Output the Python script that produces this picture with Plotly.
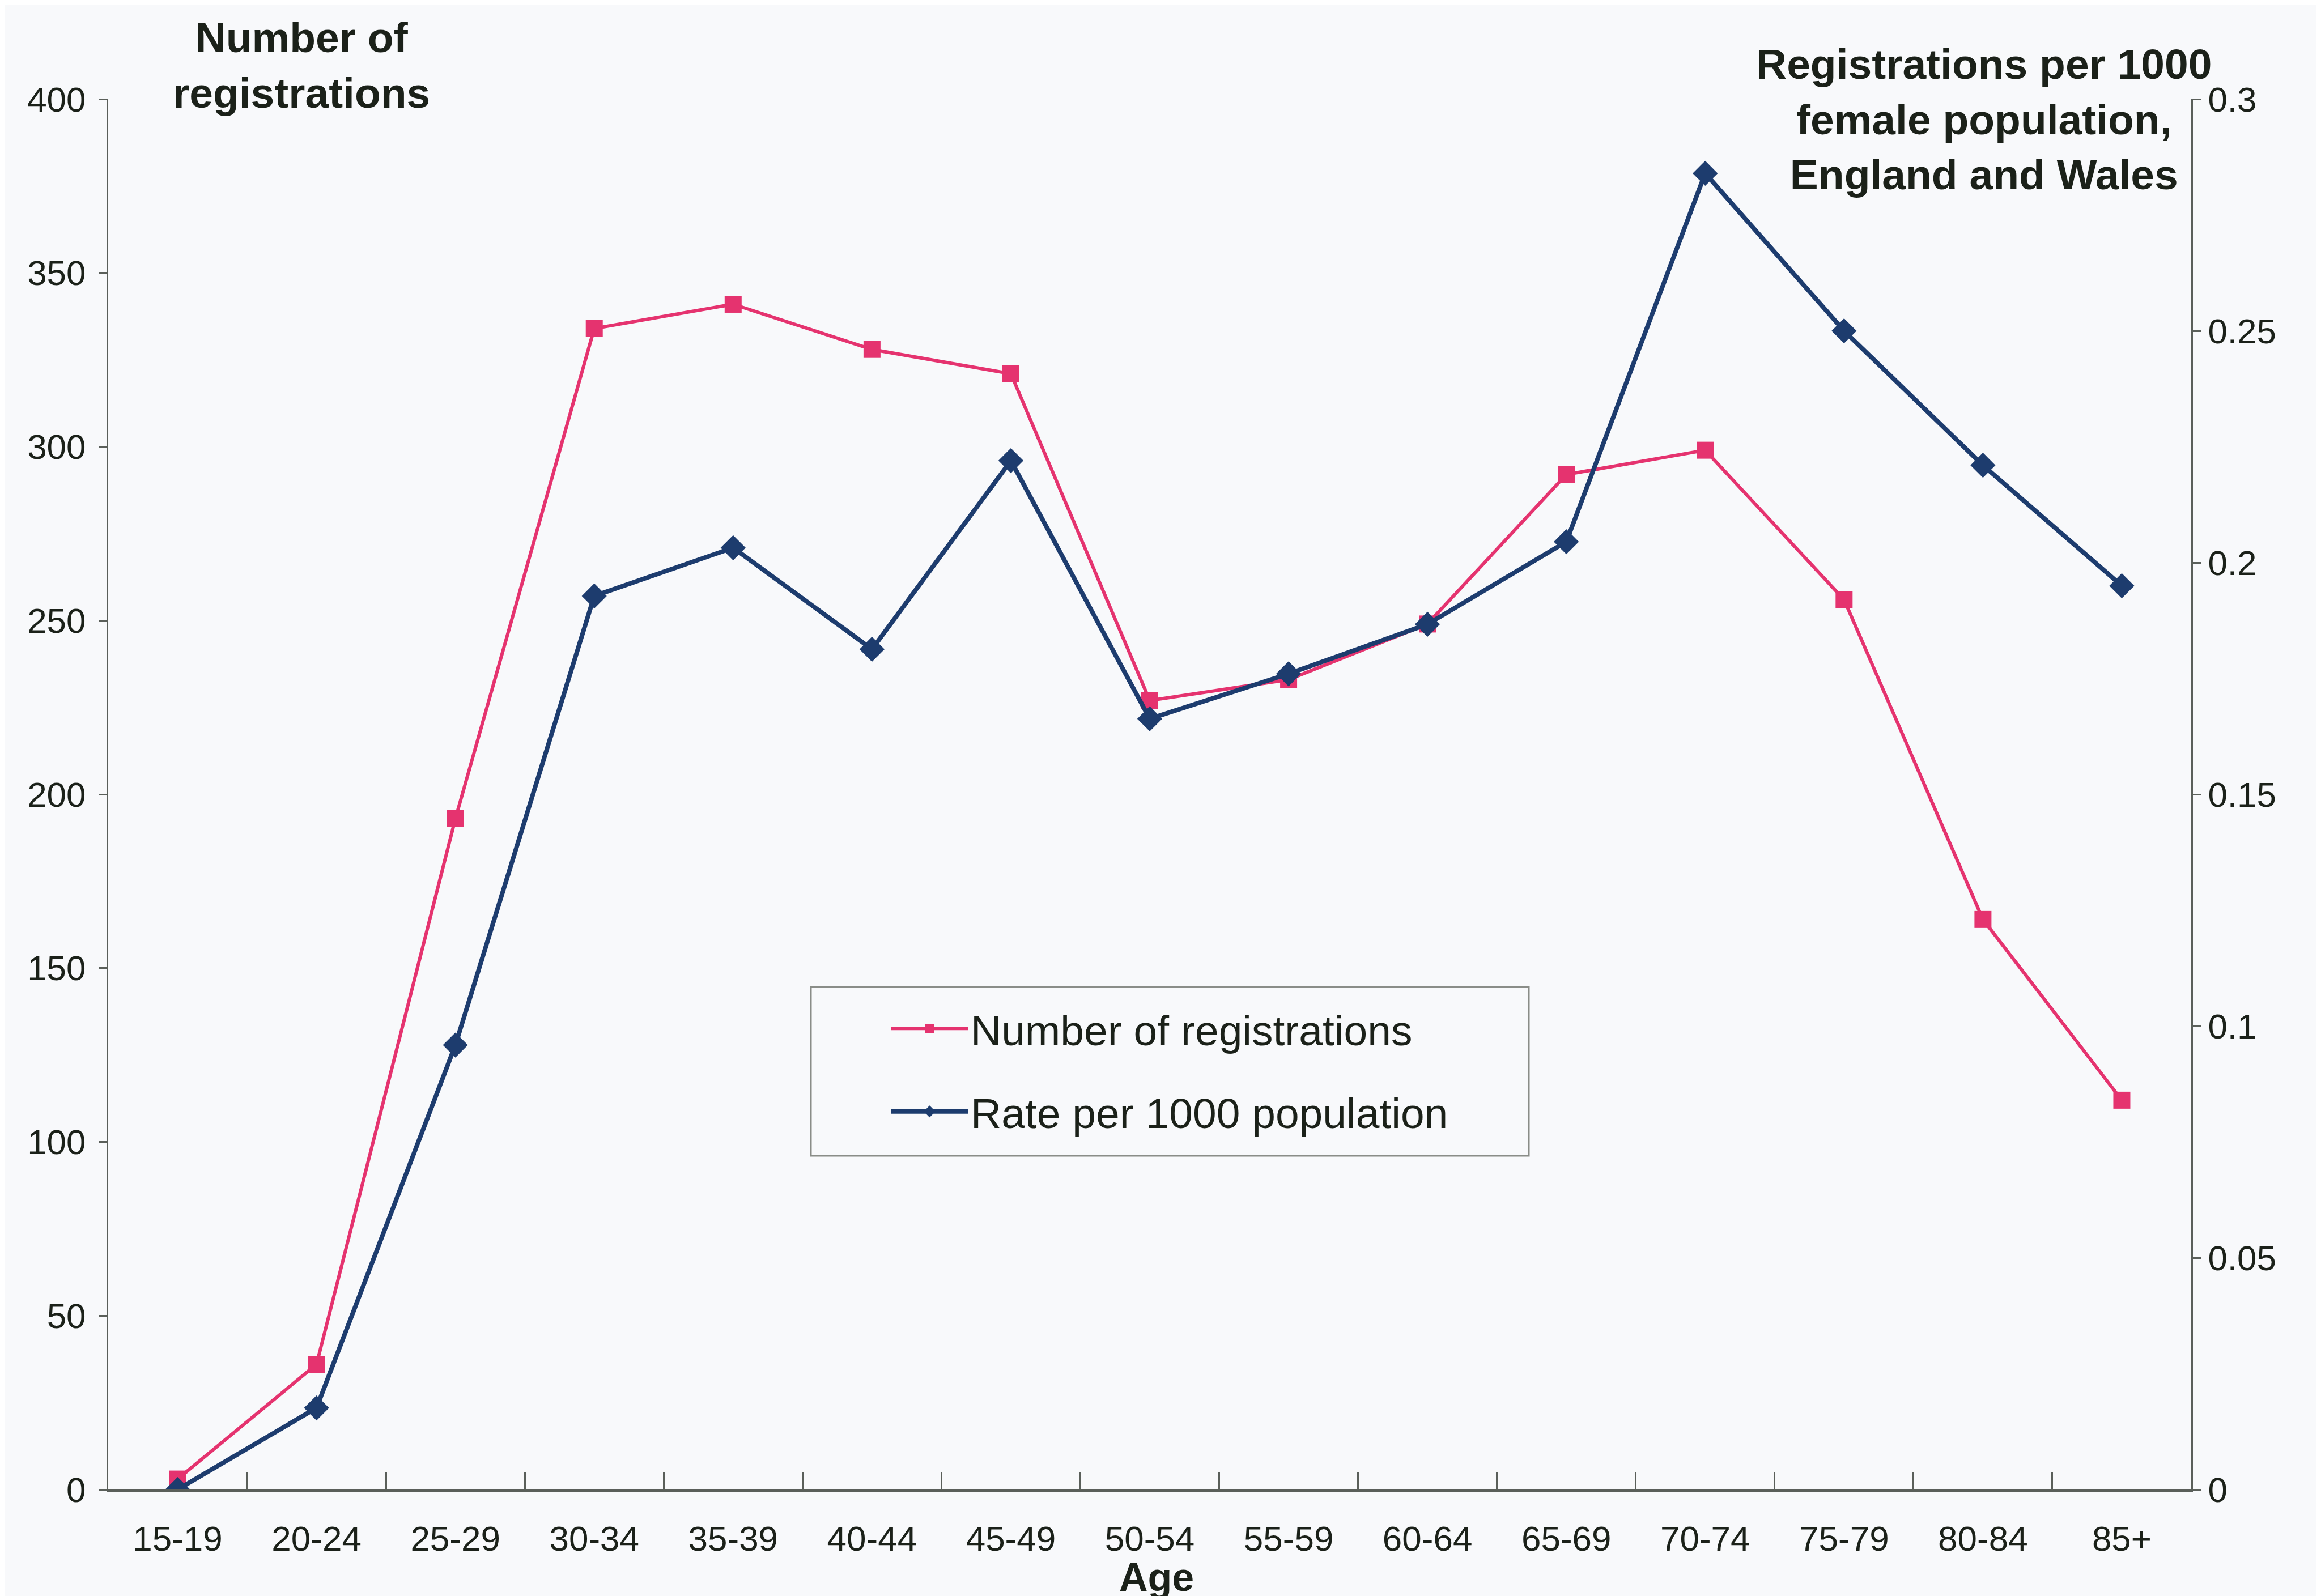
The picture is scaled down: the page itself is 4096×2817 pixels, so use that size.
import plotly.graph_objects as go

ages = ["15-19", "20-24", "25-29", "30-34", "35-39", "40-44", "45-49", "50-54",
        "55-59", "60-64", "65-69", "70-74", "75-79", "80-84", "85+"]
registrations = [3, 36, 193, 334, 341, 328, 321, 227, 233, 249, 292, 299, 256, 164, 112]
rate_per_1000 = [0.0, 0.0176, 0.0959, 0.1928, 0.2032, 0.1813, 0.222, 0.1663,
                 0.176, 0.1867, 0.2045, 0.284, 0.25, 0.221, 0.195]
left_ticks = [0, 50, 100, 150, 200, 250, 300, 350, 400]
right_ticks = [0, 0.05, 0.1, 0.15, 0.2, 0.25, 0.3]
right_ticktext = ["0", "0.05", "0.1", "0.15", "0.2", "0.25", "0.3"]

W, H = 4096, 2817
L, R, T, B = 183, 237, 167, 196
PW, PH = W - L - R, H - T - B

def px(x):
    return (x - L) / PW

def py(y):
    return 1 - (y - T) / PH

FONT = "Liberation Sans, Arial, sans-serif"
TXT = "#1b2119"
PINK = "#e5336f"
BLUE = "#1d3c6e"
AX = "#5a5f5a"

xs = list(range(len(ages)))

fig = go.Figure()
fig.add_trace(go.Scatter(
    x=xs, y=registrations, name="Number of registrations", mode="lines+markers",
    line=dict(color=PINK, width=6), marker=dict(symbol="square", size=30, color=PINK),
    legendgroup="a", yaxis="y"))
fig.add_trace(go.Scatter(
    x=xs, y=rate_per_1000, name="Rate per 1000 population", mode="lines+markers",
    line=dict(color=BLUE, width=8), marker=dict(symbol="diamond", size=34, color=BLUE),
    legendgroup="b", yaxis="y2"))

fig.update_layout(
    width=W, height=H,
    margin=dict(l=L, r=R, t=T, b=B, autoexpand=False),
    paper_bgcolor="#f8f9fb", plot_bgcolor="#f8f9fb",
    font=dict(family=FONT, size=62, color=TXT),
    showlegend=True,
    legend=dict(x=px(1560), y=py(1752), xanchor="left", yanchor="top",
                bgcolor="rgba(0,0,0,0)", borderwidth=0,
                font=dict(family=FONT, size=75, color=TXT),
                itemwidth=135, tracegroupgap=46, traceorder="grouped"),
    xaxis=dict(range=[-0.5, len(ages) - 0.5], tickmode="array", tickvals=xs, ticktext=ages,
               showgrid=False, zeroline=False, showline=True, linecolor=AX, linewidth=4,
               ticks="", ticklabelstandoff=30,
               tickfont=dict(family=FONT, size=62, color=TXT),
               minor=dict(tickmode="array", tickvals=[i + 0.5 for i in xs[:-1]],
                          ticks="inside", ticklen=30, tickwidth=3, tickcolor=AX)),
    yaxis=dict(range=[0, 400], tickmode="array", tickvals=left_ticks,
               showgrid=False, zeroline=False, showline=True, linecolor=AX, linewidth=3,
               ticks="outside", ticklen=14, tickwidth=3, tickcolor=AX, ticklabelstandoff=10,
               tickfont=dict(family=FONT, size=62, color=TXT)),
    yaxis2=dict(range=[0, 0.3], tickmode="array", tickvals=right_ticks, ticktext=right_ticktext,
                overlaying="y", side="right", anchor="x",
                showgrid=False, zeroline=False, showline=True, linecolor=AX, linewidth=3,
                ticks="outside", ticklen=14, tickwidth=3, tickcolor=AX,
                tickfont=dict(family=FONT, size=62, color=TXT)),
    shapes=[dict(type="rect", xref="paper", yref="paper",
                 x0=px(1423), x1=px(2690), y0=py(2032), y1=py(1734),
                 line=dict(color="#8a8d88", width=3), fillcolor="rgba(0,0,0,0)", layer="below")],
    annotations=[
        dict(text="<b>Number of<br>registrations</b>", xref="paper", yref="paper",
             x=px(524), y=py(107), xanchor="center", yanchor="middle", showarrow=False,
             font=dict(family=FONT, size=75, color=TXT)),
        dict(text="<b>Registrations per 1000<br>female population,<br>England and Wales</b>",
             xref="paper", yref="paper", x=px(3493), y=py(203), xanchor="center",
             yanchor="middle", showarrow=False, align="center",
             font=dict(family=FONT, size=75, color=TXT)),
        dict(text="<b>Age</b>", xref="paper", yref="paper", x=px(2033), y=py(2776),
             xanchor="center", yanchor="middle", showarrow=False,
             font=dict(family=FONT, size=70, color=TXT)),
    ],
)

fig.write_html("out.html")
